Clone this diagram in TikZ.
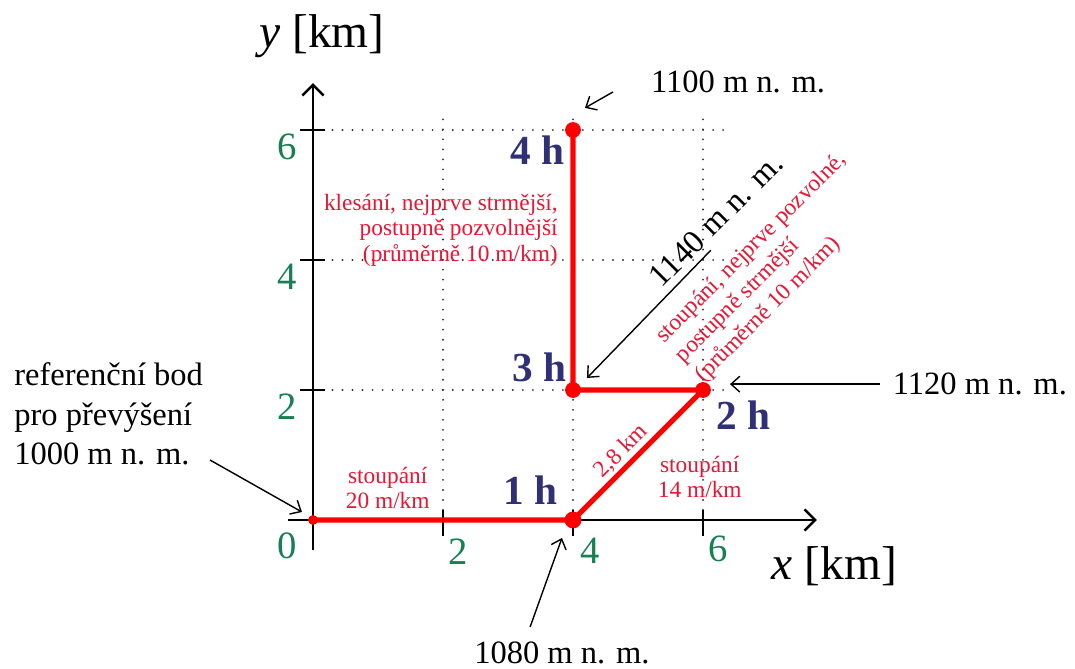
\documentclass[tikz,border=0pt]{standalone}
\usepackage{fontspec}
\setmainfont{Liberation Serif}
\usetikzlibrary{arrows.meta}
\definecolor{tickgreen}{RGB}{22,128,82}
\definecolor{hourblue}{RGB}{48,48,118}
\definecolor{notered}{RGB}{232,22,52}
\begin{document}
\begin{tikzpicture}[x=1.3cm,y=1.3cm,
  axis/.style={line width=1.4pt, -{Straight Barb[length=6pt,width=12pt,line width=1.4pt]}},
  tickmark/.style={line width=1.4pt},
  gridline/.style={line width=1.2pt, line cap=round, dash pattern=on 0pt off 5.7pt, black!80},
  route/.style={red, line width=3pt, line join=round},
  pin/.style={line width=0.8pt, -{Straight Barb[length=5pt,width=9pt]}},
  ticklabel/.style={text=tickgreen, font=\fontsize{22}{26}\selectfont, inner sep=0},
  hourlabel/.style={text=hourblue, font=\bfseries\fontsize{23.5}{26}\selectfont, inner sep=0},
  note/.style={text=notered, font=\fontsize{13.3}{14.5}\selectfont, inner sep=0},
  elev/.style={font=\fontsize{18.5}{22}\selectfont, inner sep=0},
  axislabel/.style={font=\fontsize{27}{30}\selectfont, inner sep=0}
]
\useasboundingbox (-4.8154,-2.2769) rectangle (11.7231,8.0);

% points of the route
\coordinate (O) at (0,0);
\coordinate (P1) at (4,0);
\coordinate (P2) at (6,2);
\coordinate (P3) at (4,2);
\coordinate (P4) at (4,6);

% grid
\foreach \v in {2,4,6} {
  \draw[gridline] (0.3,\v) -- (6.45,\v);
  \draw[gridline] (\v,0) -- (\v,6.23);
}

% axes
\coordinate (xs) at (-0.385,0);
\coordinate (xe) at (7.75,0);
\coordinate (ys) at (0,-0.46);
\coordinate (ye) at (0,6.72);
\draw[axis] (xs) -- (xe);
\draw[axis] (ys) -- (ye);
\foreach \v in {2,4,6} {
  \draw[tickmark] (-0.2,\v) -- (0.19,\v);
  \draw[tickmark] (\v,-0.24) -- (\v,0.16);
}

% tick labels
\node[ticklabel] (l0) at (-0.4,-0.40) {0};
\node[ticklabel] (ly2) at (-0.4,1.74) {2};
\node[ticklabel] (ly4) at (-0.4,3.74) {4};
\node[ticklabel] (ly6) at (-0.4,5.74) {6};
\node[ticklabel] (lx2) at (2.24,-0.48) {2};
\node[ticklabel] (lx4) at (4.27,-0.48) {4};
\node[ticklabel] (lx6) at (6.23,-0.45) {6};

% axis labels
\node[axislabel] (ylab) at (0.14,7.44) {\textit{y} [km]};
\node[axislabel] (xlab) at (8.02,-0.71) {\textit{x} [km]};

% route
\draw[route] (O) -- (P1) -- (P2) -- (P3) -- (P4);
\fill[red] (O) circle (2.8pt);
\fill[red] (P1) circle (4.8pt);
\fill[red] (P2) circle (4.5pt);
\fill[red] (P3) circle (4.5pt);
\fill[red] (P4) circle (4.5pt);

% hours
\node[hourlabel] (h1) at (3.35,0.46) {1 h};
\node[hourlabel] (h2) at (6.63,1.615) {2 h};
\node[hourlabel] (h3) at (3.49,2.35) {3 h};
\node[hourlabel] (h4) at (3.46,5.69) {4 h};

% red notes
\node[note, align=right, anchor=east] (n1) at (3.77,4.46)
  {klesání, nejprve strmější,\\postupně pozvolnější\\(průměrně 10 m/km)};
\node[note, align=center] (n2) at (1.15,0.49) {stoupání\\20 m/km};
\node[note, align=center] (n3) at (5.95,0.66) {stoupání\\14 m/km};
\node[note, rotate=45] (n4) at (4.74,1.06) {2,8 km};
\node[note, rotate=45, align=left, font=\fontsize{13.3}{15.8}\selectfont] (n5) at (7.05,3.88)
  {stoupání, nejprve pozvolné,\\postupně strmější\\(průměrně 10 m/km)};

% elevation labels
\node[elev] (e1100) at (6.54,6.74) {1100 m n. m.};
\node[elev] (e1120) at (10.26,2.10) {1120 m n. m.};
\node[elev] (e1080) at (3.83,-2.04) {1080 m n. m.};
\node[elev, rotate=45] (e1140) at (6.2,4.62) {1140 m n. m.};
\node[elev, align=left, anchor=west, font=\fontsize{18.5}{22.5}\selectfont] (eref) at (-4.6,1.63)
  {referenční bod\\pro převýšení\\1000 m n. m.};

% pointer arrows
\coordinate (a1s) at (4.615,6.585);
\coordinate (a1e) at (4.185,6.34);
\coordinate (a2s) at (8.72,2.09);
\coordinate (a2e) at (6.415,2.09);
\coordinate (a3s) at (3.34,-1.646);
\coordinate (a3e) at (3.83,-0.277);
\coordinate (a4s) at (6.12,4.15);
\coordinate (a4e) at (4.215,2.185);
\coordinate (a5s) at (-1.585,0.923);
\coordinate (a5e) at (-0.17,0.123);
\draw[pin] (a1s) -- (a1e);
\draw[pin] (a2s) -- (a2e);
\draw[pin] (a3s) -- (a3e);
\draw[pin] (a4s) -- (a4e);
\draw[pin] (a5s) -- (a5e);
\end{tikzpicture}
\end{document}
